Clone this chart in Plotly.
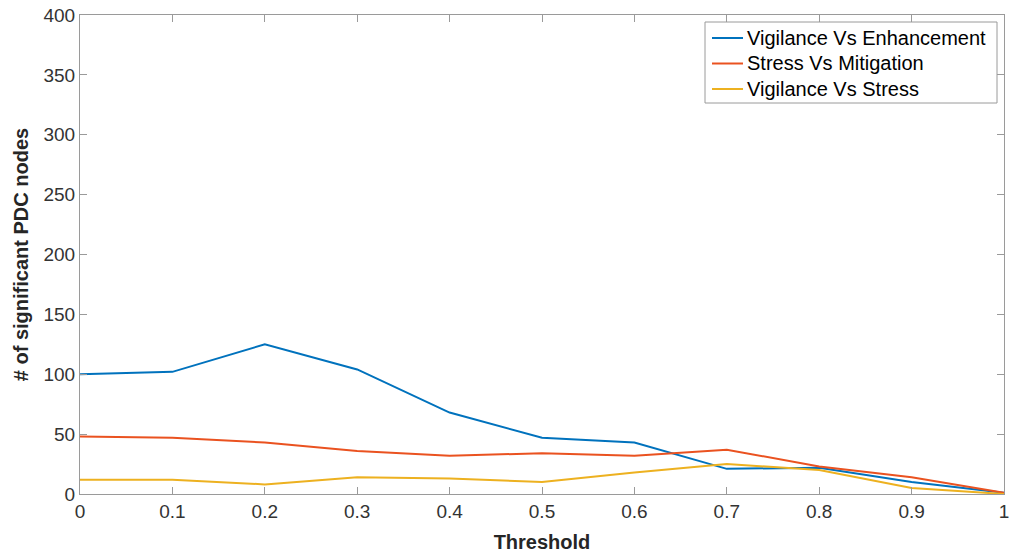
import plotly.graph_objects as go

threshold = [0, 0.1, 0.2, 0.3, 0.4, 0.5, 0.6, 0.7, 0.8, 0.9, 1.0]
vig_vs_enh = [100, 102, 125, 104, 68, 47, 43, 21, 22, 10, 1]
stress_vs_mit = [48, 47, 43, 36, 32, 34, 32, 37, 23, 14, 1]
vig_vs_stress = [12, 12, 8, 14, 13, 10, 18, 25, 20, 5, 0]
x_ticktext = ["0", "0.1", "0.2", "0.3", "0.4", "0.5", "0.6", "0.7", "0.8", "0.9", "1"]

series = [
    ("Vigilance Vs Enhancement", vig_vs_enh, "#0072BD"),
    ("Stress Vs Mitigation", stress_vs_mit, "#EA5220"),
    ("Vigilance Vs Stress", vig_vs_stress, "#EDB120"),
]

W, H = 1012, 557
ML, MR, MT, MB = 80, 8, 15, 63
PW, PH = W - ML - MR, H - MT - MB


def px_x(px):
    return (px - ML) / PW


def px_y(py):
    return 1 - (py - MT) / PH


fig = go.Figure()
for name, vals, color in series:
    fig.add_trace(go.Scatter(x=threshold, y=vals, mode="lines", name=name,
                             line=dict(color=color, width=2), showlegend=False))

font_family = "Liberation Sans, Arial, sans-serif"
axis_common = dict(
    showgrid=False, zeroline=False, showline=True, linecolor="#9a9a9a",
    linewidth=1, mirror="ticks", ticks="inside", ticklen=7, tickcolor="#9a9a9a",
    tickfont=dict(size=19, color="#333333", family=font_family),
    automargin=False,
)

# compact boxed legend in the upper-right corner
shapes = [dict(type="rect", xref="paper", yref="paper",
               x0=px_x(705), x1=px_x(997), y0=px_y(103), y1=px_y(22),
               line=dict(color="#9a9a9a", width=1), fillcolor="white", layer="above")]
annotations = []
for i, (name, _, color) in enumerate(series):
    yc = 38 + i * 25.5
    shapes.append(dict(type="line", xref="paper", yref="paper",
                       x0=px_x(712), x1=px_x(743), y0=px_y(yc), y1=px_y(yc),
                       line=dict(color=color, width=2), layer="above"))
    annotations.append(dict(xref="paper", yref="paper", x=px_x(745), y=px_y(yc),
                            text=name, showarrow=False, xanchor="left", yanchor="middle",
                            font=dict(size=20, color="#000000", family=font_family)))

fig.update_layout(
    width=W, height=H,
    margin=dict(l=ML, r=MR, t=MT, b=MB),
    paper_bgcolor="white", plot_bgcolor="white",
    xaxis=dict(range=[0, 1], tickvals=threshold, ticktext=x_ticktext,
               title=dict(text="<b>Threshold</b>", standoff=14,
                          font=dict(size=20, color="#262626", family=font_family)),
               **axis_common),
    yaxis=dict(range=[0, 400], dtick=50,
               title=dict(text="<b># of significant PDC nodes</b>", standoff=9,
                          font=dict(size=20, color="#262626", family=font_family)),
               **axis_common),
    shapes=shapes,
    annotations=annotations,
    showlegend=False,
)

fig.write_html("out.html")
